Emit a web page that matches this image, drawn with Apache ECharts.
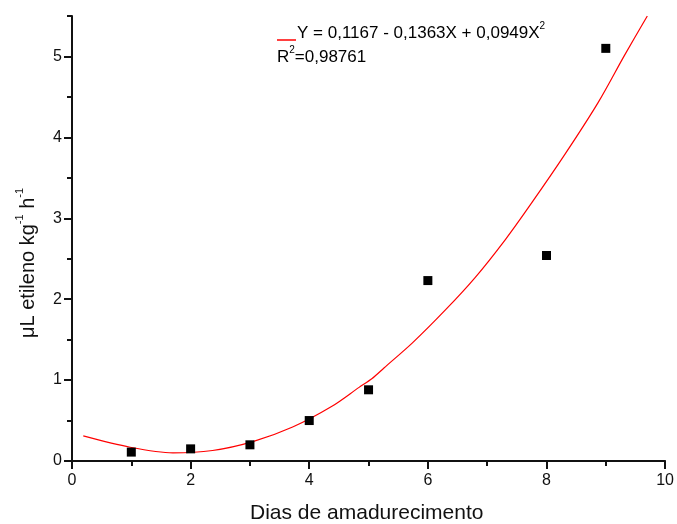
<!DOCTYPE html>
<html>
<head>
<meta charset="utf-8">
<script src="https://cdn.jsdelivr.net/npm/echarts@6/dist/echarts.min.js"></script>
<style>
  html, body { margin: 0; padding: 0; background: #fff; }
  #chart { width: 677px; height: 524px; }
</style>
</head>
<body>
<div id="chart"></div>
<script>
// observed points
var dias = [1, 2, 3, 4, 5, 6, 8, 9];
var etileno = [0.11, 0.15, 0.20, 0.50, 0.88, 2.23, 2.54, 5.10];

// fitted curve
var curveX = [0.19, 0.98, 1.70, 2.37, 3.05, 3.72, 4.39, 4.84, 5.06, 5.26, 5.74, 6.30, 6.80, 7.31, 7.75, 8.31, 8.87, 9.32, 9.70];
var curveY = [0.31, 0.17, 0.10, 0.13, 0.24, 0.42, 0.68, 0.91, 1.02, 1.15, 1.46, 1.87, 2.27, 2.74, 3.19, 3.79, 4.43, 5.02, 5.50];

var xMajor = [0, 2, 4, 6, 8, 10];
var xMinor = [1, 3, 5, 7, 9];
var yMajor = [0, 1, 2, 3, 4, 5];
var yMinor = [0.5, 1.5, 2.5, 3.5, 4.5, 5.5];

var eqText = 'Y = 0,1167 - 0,1363X + 0,0949X';
var r2Text = '=0,98761';

var fontName = '"Liberation Sans", Arial, sans-serif';
var ink = '#111';

var pts = [];
for (var i = 0; i < dias.length; i++) {
    pts.push([dias[i], etileno[i]]);
}
var curve = [];
for (var j = 0; j < curveX.length; j++) {
    curve.push([curveX[j], curveY[j]]);
}

function axisBase(extra) {
    var a = {
        type: 'value',
        min: 0,
        axisLine: { show: true, lineStyle: { color: ink, width: 2 } },
        splitLine: { show: false },
        axisTick: { show: true, inside: false, length: 8, lineStyle: { color: ink, width: 2 } },
        axisLabel: { color: ink, fontSize: 16, fontFamily: fontName }
    };
    for (var k in extra) a[k] = extra[k];
    return a;
}

var chart = echarts.init(document.getElementById('chart'));
var option = {
    backgroundColor: '#fff',
    animation: false,
    grid: { left: 72, right: 10, top: 16, bottom: 63 },
    xAxis: [
        axisBase({
            max: 10,
            axisTick: { show: true, length: 8, customValues: xMajor, lineStyle: { color: ink, width: 2 } },
            axisLabel: { color: ink, fontSize: 16, fontFamily: fontName, margin: 12, customValues: xMajor }
        }),
        axisBase({
            max: 10,
            position: 'bottom',
            axisLine: { show: false },
            axisTick: { show: true, length: 5, customValues: xMinor, lineStyle: { color: ink, width: 2 } },
            axisLabel: { show: false }
        })
    ],
    yAxis: [
        axisBase({
            max: 5.5,
            axisTick: { show: true, length: 8, customValues: yMajor, lineStyle: { color: ink, width: 2 } },
            axisLabel: { color: ink, fontSize: 16, fontFamily: fontName, margin: 10, customValues: yMajor }
        }),
        axisBase({
            max: 5.5,
            position: 'left',
            axisLine: { show: false },
            axisTick: { show: true, length: 5, customValues: yMinor, lineStyle: { color: ink, width: 2 } },
            axisLabel: { show: false }
        })
    ],
    graphic: [
        {
            type: 'text', left: 250, top: 503,
            style: { text: 'Dias de amadurecimento', fill: ink, font: '21px ' + fontName }
        },
        {
            type: 'text', x: 14, y: 338, rotation: Math.PI / 2,
            style: {
                text: '{a|\u03bcL etileno kg}{s|-1}{a| h}{s|-1}',
                fill: ink,
                rich: {
                    a: { fontSize: 20, fontFamily: fontName, color: ink, lineHeight: 24, verticalAlign: 'bottom' },
                    s: { fontSize: 11, fontFamily: fontName, color: ink, lineHeight: 24, verticalAlign: 'top' }
                }
            }
        },
        {
            type: 'line',
            shape: { x1: 277, y1: 40, x2: 296, y2: 40 },
            style: { stroke: '#ff0000', lineWidth: 1.5 }
        },
        {
            type: 'text', x: 297, y: 21,
            style: {
                text: '{a|' + eqText + '}{s|2}',
                rich: {
                    a: { fontSize: 17, fontFamily: fontName, color: ink, lineHeight: 21, verticalAlign: 'bottom' },
                    s: { fontSize: 10, fontFamily: fontName, color: ink, lineHeight: 21, verticalAlign: 'top', padding: [0, 0, 4, 0] }
                }
            }
        },
        {
            type: 'text', x: 277, y: 45,
            style: {
                text: '{a|R}{s|2}{a|' + r2Text + '}',
                rich: {
                    a: { fontSize: 17, fontFamily: fontName, color: ink, lineHeight: 21, verticalAlign: 'bottom' },
                    s: { fontSize: 10, fontFamily: fontName, color: ink, lineHeight: 21, verticalAlign: 'top', padding: [0, 0, 4, 0] }
                }
            }
        }
    ],
    series: [
        {
            type: 'line',
            data: curve,
            smooth: 0.3,
            showSymbol: false,
            lineStyle: { color: '#ff0000', width: 1.2 },
            z: 2
        },
        {
            type: 'scatter',
            data: pts,
            symbol: 'rect',
            symbolSize: 9,
            itemStyle: { color: '#000', opacity: 1 },
            z: 3
        }
    ]
};
chart.setOption(option);
</script>
</body>
</html>
